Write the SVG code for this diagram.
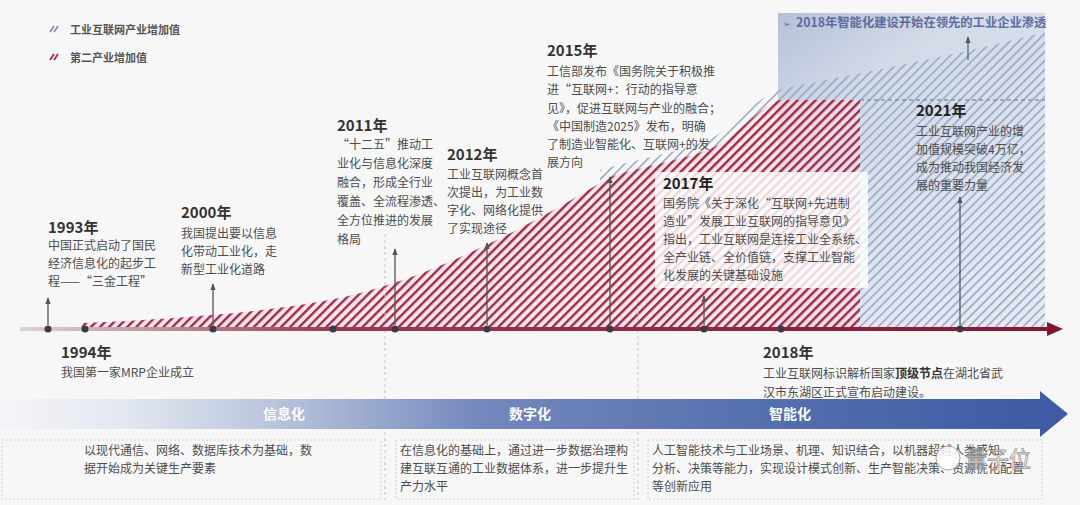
<svg xmlns="http://www.w3.org/2000/svg" width="1080" height="505" viewBox="0 0 1080 505">
<defs>
<style>
text{font-family:"Noto Sans CJK SC","Noto Sans",sans-serif}
.t{font-size:12px;fill:#4d4d4d}
.h{font-size:15px;font-weight:700;fill:#333}
.lg{font-size:11px;font-weight:700;fill:#555}
.band{font-size:14px;font-weight:700;fill:#fff;text-anchor:middle}
.arr{stroke:#555;stroke-width:1.3;fill:none;marker-end:url(#ah)}
.dot{fill:#3b3b45}
.sep{stroke:#c4c4c8;stroke-width:1;stroke-dasharray:3 3;fill:none}
.box{stroke:#cfcfd4;stroke-width:1;stroke-dasharray:2 2;fill:none}
</style>
<pattern id="redH" width="6.4" height="6.4" patternUnits="userSpaceOnUse" patternTransform="rotate(45)"><rect width="2.4" height="6.4" fill="#a52946"/></pattern>
<pattern id="blueH" width="6.4" height="6.4" patternUnits="userSpaceOnUse" patternTransform="rotate(45)"><rect width="1.6" height="6.4" fill="#9aa6c2"/></pattern>
<marker id="ah" viewBox="0 0 10 10" refX="9" refY="5" markerWidth="7" markerHeight="7" markerUnits="userSpaceOnUse" orient="auto"><path d="M0,1 L10,5 L0,9 Z" fill="#555"/></marker>
<linearGradient id="axisG" x1="20" y1="0" x2="1060" y2="0" gradientUnits="userSpaceOnUse">
<stop offset="0" stop-color="#ddd3d6"/><stop offset="0.12" stop-color="#bf99a4"/><stop offset="0.3" stop-color="#9c3853"/><stop offset="1" stop-color="#841632"/>
</linearGradient>
<linearGradient id="bandG" x1="0" y1="0" x2="1068" y2="0" gradientUnits="userSpaceOnUse">
<stop offset="0" stop-color="#f4f5f8"/><stop offset="0.12" stop-color="#e2e7f0"/><stop offset="0.27" stop-color="#b5c1da"/><stop offset="0.45" stop-color="#7488bd"/><stop offset="0.7" stop-color="#5770ae"/><stop offset="1" stop-color="#3c59a4"/>
</linearGradient>
<linearGradient id="topG" x1="0" y1="0" x2="0.6" y2="1">
<stop offset="0" stop-color="#b5c0d8"/><stop offset="0.3" stop-color="#d3dae8"/><stop offset="1" stop-color="#e4eaf4"/>
</linearGradient>
</defs>

<rect width="1080" height="505" fill="#f7f7f8"/>

<g id="legend">
<g stroke="#7d8bb3" stroke-width="1.6"><line x1="50" y1="32" x2="54" y2="26"/><line x1="54" y1="32" x2="58" y2="26"/></g>
<text class="lg" x="70" y="34">工业互联网产业增加值</text>
<g stroke="#a52946" stroke-width="1.8"><line x1="50" y1="60" x2="54" y2="54"/><line x1="54" y1="60" x2="58" y2="54"/></g>
<text class="lg" x="70" y="62">第二产业增加值</text>
</g>

<g id="areas">
<rect x="778" y="13" width="267" height="317" fill="url(#topG)"/>
<path d="M600,329 L600,170 C650,156 698,149 720,133 C745,115 760,95 785,88 C870,72 960,54 1045,32 L1045,329 Z" fill="url(#blueH)"/>
<path d="M80,329 L84,323 C170,319 260,313 330,300 C420,283 520,232 610,177 C650,164 700,157 722,143 C745,126 765,104 780,100 L860,100 L860,329 Z" fill="#f6dde4" fill-opacity="0.6"/>
<path d="M80,329 L84,323 C170,319 260,313 330,300 C420,283 520,232 610,177 C650,164 700,157 722,143 C745,126 765,104 780,100 L860,100 L860,329 Z" fill="url(#redH)"/>
<line x1="860" y1="100" x2="1045" y2="100" stroke="#8a93a8" stroke-width="1.3" stroke-dasharray="4 3"/>
</g>

<g id="separators">
<line class="sep" x1="385" y1="234" x2="385" y2="500"/>
<line class="sep" x1="638" y1="300" x2="638" y2="500"/>
</g>

<g id="trend-note">
<text x="783" y="27" style="font-size:9px;fill:#5d6c9e">➢</text>
<text x="796" y="27" style="font-size:12.3px;font-weight:700;fill:#5d6c9e">2018年智能化建设开始在领先的工业企业渗透</text>
</g>

<g id="axis">
<line x1="20" y1="329" x2="1050" y2="329" stroke="url(#axisG)" stroke-width="4"/>
<path d="M1047,322 L1063,329 L1047,336 Z" fill="#841632"/>
<circle class="dot" cx="48" cy="329" r="3.5"/>
<circle class="dot" cx="85" cy="329" r="3.5"/>
<circle class="dot" cx="213" cy="329" r="3.5"/>
<circle class="dot" cx="333" cy="329" r="3.5"/>
<circle class="dot" cx="395" cy="329" r="3.5"/>
<circle class="dot" cx="487" cy="329" r="3.5"/>
<circle class="dot" cx="610" cy="329" r="3.5"/>
<circle class="dot" cx="704" cy="329" r="3.5"/>
<circle class="dot" cx="781" cy="329" r="3.5"/>
<circle class="dot" cx="960" cy="329" r="3.5"/>
</g>

<g id="connectors">
<line class="arr" x1="48" y1="325" x2="48" y2="298"/>
<line class="arr" x1="213" y1="325" x2="213" y2="284"/>
<line class="arr" x1="395" y1="325" x2="395" y2="249"/>
<line class="arr" x1="487" y1="325" x2="487" y2="243"/>
<line class="arr" x1="610" y1="325" x2="610" y2="177"/>
<line class="arr" x1="704" y1="325" x2="704" y2="296"/>
<line class="arr" x1="960" y1="325" x2="960" y2="197"/>
<line class="arr" x1="968" y1="60" x2="968" y2="37" style="stroke:#5a6585"/>
</g>

<g id="e1993">
<text class="h" x="48" y="233">1993年</text>
<text class="t" x="48" y="250">中国正式启动了国民</text>
<text class="t" x="48" y="268">经济信息化的起步工</text>
<text class="t" x="48" y="286">程——“三金工程”</text>
</g>

<g id="e1994">
<text class="h" x="61" y="358">1994年</text>
<text class="t" x="61" y="377">我国第一家MRP企业成立</text>
</g>

<g id="e2000">
<text class="h" x="181" y="218">2000年</text>
<text class="t" x="181" y="238">我国提出要以信息</text>
<text class="t" x="181" y="256">化带动工业化，走</text>
<text class="t" x="181" y="274">新型工业化道路</text>
</g>

<g id="e2011">
<text class="h" x="337" y="131">2011年</text>
<text class="t" x="337" y="149">“十二五”推动工</text>
<text class="t" x="337" y="168">业化与信息化深度</text>
<text class="t" x="337" y="187">融合，形成全行业</text>
<text class="t" x="337" y="206">覆盖、全流程渗透、</text>
<text class="t" x="337" y="225">全方位推进的发展</text>
<text class="t" x="337" y="244">格局</text>
</g>

<g id="e2012">
<text class="h" x="447" y="160">2012年</text>
<text class="t" x="447" y="179">工业互联网概念首</text>
<text class="t" x="447" y="197">次提出，为工业数</text>
<text class="t" x="447" y="215">字化、网络化提供</text>
<text class="t" x="447" y="233">了实现途径</text>
</g>

<g id="e2015">
<text class="h" x="547" y="56">2015年</text>
<text class="t" x="547" y="76">工信部发布《国务院关于积极推</text>
<text class="t" x="547" y="94">进“互联网+：行动的指导意</text>
<text class="t" x="547" y="113">见》，促进互联网与产业的融合；</text>
<text class="t" x="547" y="131">《中国制造2025》发布，明确</text>
<text class="t" x="547" y="149">了制造业智能化、互联网+的发</text>
<text class="t" x="547" y="167">展方向</text>
</g>

<g id="e2017">
<rect x="655" y="172" width="213" height="116" fill="#ffffff" fill-opacity="0.82"/>
<text class="h" x="663" y="189" style="fill:#222">2017年</text>
<text class="t" x="663" y="208">国务院《关于深化“互联网+先进制</text>
<text class="t" x="663" y="226">造业”发展工业互联网的指导意见》</text>
<text class="t" x="663" y="244">指出，工业互联网是连接工业全系统、</text>
<text class="t" x="663" y="262">全产业链、全价值链，支撑工业智能</text>
<text class="t" x="663" y="280">化发展的关键基础设施</text>
</g>

<g id="e2018">
<text class="h" x="763" y="358">2018年</text>
<text class="t" x="763" y="378">工业互联网标识解析国家<tspan style="font-weight:700;fill:#333">顶级节点</tspan>在湖北省武</text>
<text class="t" x="763" y="397">汉市东湖区正式宣布启动建设。</text>
</g>

<g id="e2021">
<text class="h" x="916" y="116" style="fill:#222">2021年</text>
<text class="t" x="916" y="136">工业互联网产业的增</text>
<text class="t" x="916" y="154">加值规模突破4万亿，</text>
<text class="t" x="916" y="172">成为推动我国经济发</text>
<text class="t" x="916" y="190">展的重要力量</text>
</g>

<g id="stage-band">
<path d="M0,399 L1040,399 L1040,391 L1068,414 L1040,437 L1040,429 L0,429 Z" fill="url(#bandG)"/>
<text class="band" x="284" y="419">信息化</text>
<text class="band" x="530" y="419">数字化</text>
<text class="band" x="790" y="419">智能化</text>
</g>

<g id="stage-info">
<rect class="box" x="2" y="440" width="379" height="59"/>
<text class="t" x="84" y="455">以现代通信、网络、数据库技术为基础，数</text>
<text class="t" x="84" y="473">据开始成为关键生产要素</text>
</g>

<g id="stage-digital">
<rect class="box" x="396" y="440" width="238" height="59"/>
<text class="t" x="400" y="455">在信息化的基础上，通过进一步数据治理构</text>
<text class="t" x="400" y="473">建互联互通的工业数据体系，进一步提升生</text>
<text class="t" x="400" y="491">产力水平</text>
</g>

<g id="stage-smart">
<rect class="box" x="648" y="440" width="394" height="59"/>
<text class="t" x="652" y="455">人工智能技术与工业场景、机理、知识结合，以机器超越人类感知、</text>
<text class="t" x="652" y="473">分析、决策等能力，实现设计模式创新、生产智能决策、资源优化配置</text>
<text class="t" x="652" y="491">等创新应用</text>
</g>

<g id="watermark" opacity="0.85">
<circle cx="948" cy="458" r="12" fill="#ffffff" stroke="#9a9a9a" stroke-width="1"/>
<text x="965" y="467" style="font-size:22px;fill:#ffffff;stroke:#8a8a8a;stroke-width:0.8">量子位</text>
</g>
</svg>
